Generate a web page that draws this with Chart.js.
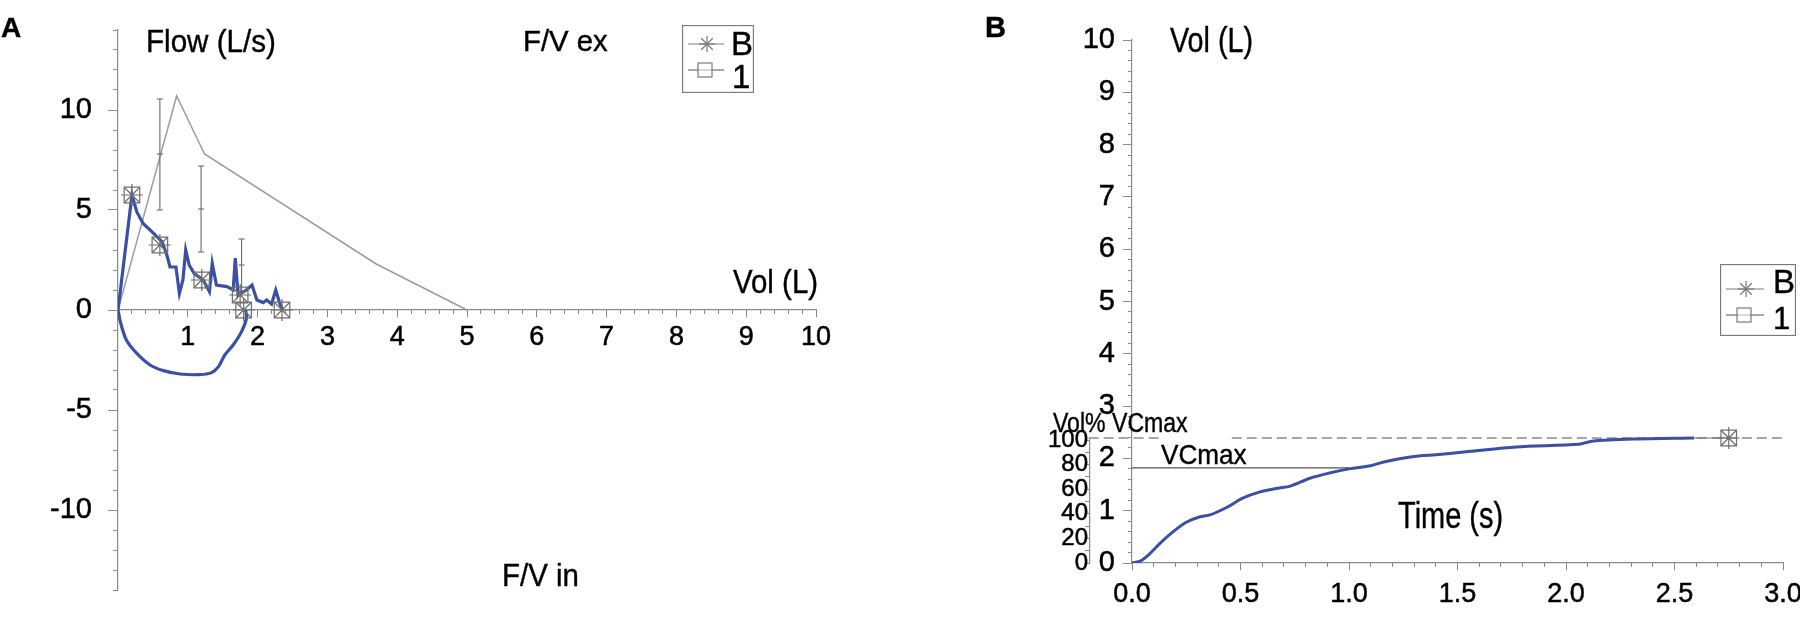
<!DOCTYPE html>
<html>
<head>
<meta charset="utf-8">
<title>F/V and V/T curves</title>
<script src="https://cdn.jsdelivr.net/npm/chart.js"></script>
<style>
  body { margin: 0; background: #fff; }
  #wrap { position: relative; width: 1800px; height: 619px; overflow: hidden; background: #fff; }
  canvas { position: absolute; }
  .lbl { position: absolute; line-height: 1; white-space: nowrap; transform-origin: 0 0; color: #000;
         font-family: "Liberation Sans Narrow", "Liberation Sans", Arial, sans-serif;
         -webkit-text-stroke: 0.4px #000; }
  .legend { position: absolute; }
</style>
</head>
<body>
<div id="wrap">
  <canvas id="chartA" width="900" height="619" style="left:0;top:0"></canvas>
  <canvas id="chartB" width="900" height="619" style="left:900px;top:0"></canvas>
  <canvas id="chartPct" width="80" height="160" style="left:1030px;top:420px"></canvas>
</div>
<script>
// ---- Panel A: flow / volume ----
const predVol  = [0, 0.84, 1.24, 3.7, 5.0];
const predFlow = [0, 10.7, 7.8, 2.3, 0];

const errVol  = [0.6, 1.19, 1.77];
const errLow  = [5.0, 2.9, 0.95];
const errMid  = [7.8, 5.05, 2.25];
const errHigh = [10.55, 7.2, 3.55];

const expVol  = [0, 0.2, 0.27, 0.36, 0.51, 0.63, 0.70, 0.745, 0.83, 0.88, 0.93, 0.97, 1.02, 1.09, 1.22, 1.31,
                 1.35, 1.41, 1.56, 1.65, 1.68, 1.72, 1.84, 1.92, 1.99, 2.08, 2.13, 2.2, 2.26, 2.32, 2.36];
const expFlow = [0, 5.75, 4.9, 4.33, 3.83, 3.42, 2.75, 2.15, 2.15, 0.83, 1.5, 3.0, 2.25, 1.83, 1.5, 0.92,
                 2.33, 1.25, 1.17, 1.0, 2.6, 0.75, 1.0, 1.25, 0.5, 0.37, 0.5, 0.3, 1.0, 0.3, 0];

const inVol  = [0, 0.04, 0.12, 0.27, 0.46, 0.65, 0.89, 1.17, 1.34, 1.44, 1.53, 1.65, 1.77, 1.84, 1.83];
const inFlow = [0, -0.67, -1.5, -2.17, -2.75, -3.03, -3.2, -3.23, -3.13, -2.83, -2.25, -1.75, -1.08, -0.42, 0];

const markVol  = [0.2, 0.6, 1.2, 1.75, 1.8, 2.35];
const markFlow = [5.75, 3.25, 1.5, 0.75, 0, 0];

// ---- Panel B: volume / time ----
const timeS = [0, 0.04, 0.08, 0.13, 0.19, 0.25, 0.31, 0.36, 0.44, 0.51, 0.59, 0.67, 0.73, 0.82, 0.91, 1.0,
               1.1, 1.16, 1.24, 1.33, 1.4, 1.55, 1.77, 2.06, 2.12, 2.31, 2.59];
const volL  = [0, 0.04, 0.17, 0.38, 0.6, 0.78, 0.88, 0.92, 1.07, 1.24, 1.36, 1.43, 1.47, 1.62, 1.72, 1.8,
               1.86, 1.93, 2.0, 2.05, 2.07, 2.13, 2.22, 2.27, 2.33, 2.37, 2.39];

const vcMax = 2.39;             // 100 % level (L)
const vcLineVol = 1.82;         // solid "VCmax" marker line
const vcLineTime = [0, 1.0];
const refLeftTime = [-0.2, 0.13];   // dashed 100 % line starts at the % axis
const refRightTime = [0.46, 3.0];
const endTime = [2.59, 2.75];
const markTime = [2.75];

const pctTicks = [0, 100];

const blue = '#3b4fa6';
const axisGray = '#8a8a8a';
const markGray = '#6e6e6e';
const FONT = '"Liberation Sans Narrow", "Liberation Sans", Arial, sans-serif';

const pts = (xs, ys) => xs.map((x, i) => ({ x: x, y: ys[i] }));
const flat = (xs, y) => xs.map(x => ({ x: x, y: y }));
const noPad = (s) => { s.paddingLeft = 0; s.paddingRight = 0; s.paddingTop = 0; s.paddingBottom = 0; };
const tickText = (size) => ({ family: FONT, size: size });

function minorAxis(axis, min, max, step, len, pos) {
    return {
        type: 'linear', axis: axis, min: min, max: max, position: pos,
        ticks: { stepSize: step, display: false },
        grid: { drawOnChartArea: false, tickLength: len, tickColor: axisGray },
        border: { display: false },
        afterFit: noPad
    };
}

function markerSets(xs, ys) {
    return [
        { label: 'B', data: pts(xs, ys), showLine: false, pointStyle: 'star', pointRadius: 11,
          borderColor: markGray, pointBorderWidth: 1.2, backgroundColor: 'rgba(0,0,0,0)', order: 0 },
        { label: '1', data: pts(xs, ys), showLine: false, pointStyle: 'rect', pointRadius: 11,
          borderColor: markGray, pointBorderWidth: 1.2, backgroundColor: 'rgba(0,0,0,0)', order: 0 }
    ];
}

const common = {
    responsive: false,
    animation: false,
    events: [],
    plugins: { legend: { display: false }, tooltip: { enabled: false } }
};

const labelTicks = { color: '#000', textStrokeColor: '#000', textStrokeWidth: 0.5, autoSkip: false, maxRotation: 0 };

// Panel A chart
const errSets = errVol.map((x, i) => ({
    data: [{ x: x, y: errLow[i] }, { x: x, y: errMid[i] }, { x: x, y: errHigh[i] }],
    showLine: true, borderColor: '#6a6a6a', borderWidth: 1.1,
    pointStyle: 'line', pointRadius: 3, pointBorderColor: '#6a6a6a', pointBorderWidth: 1.1, order: 2
}));

new Chart(document.getElementById('chartA'), {
    type: 'scatter',
    data: {
        datasets: [
            ...markerSets(markVol, markFlow),
            { data: pts(expVol, expFlow), showLine: true, borderColor: blue, borderWidth: 3.2,
              pointRadius: 0, tension: 0, order: 1 },
            { data: pts(inVol, inFlow), showLine: true, borderColor: blue, borderWidth: 3.2,
              pointRadius: 0, tension: 0.3, order: 1 },
            ...errSets,
            { data: pts(predVol, predFlow), showLine: true, borderColor: '#9c9c9c', borderWidth: 1.5,
              pointRadius: 0, order: 3 }
        ]
    },
    options: {
        ...common,
        layout: { padding: { left: 0, right: 84, top: 30, bottom: 29 } },
        scales: {
            x: {
                type: 'linear', min: 0, max: 10, position: { y: 0 },
                ticks: { ...labelTicks, stepSize: 1, padding: 4, font: tickText(27),
                         callback: v => v === 0 ? '' : v },
                grid: { drawOnChartArea: false, tickLength: 7, tickColor: axisGray },
                border: { color: axisGray, width: 1.2 },
                afterFit: noPad
            },
            xMinor: minorAxis('x', 0, 10, 0.2, 4, { y: 0 }),
            y: {
                type: 'linear', min: -14, max: 14, position: 'left',
                ticks: { ...labelTicks, stepSize: 5, includeBounds: false, padding: 16, font: tickText(29) },
                grid: { drawOnChartArea: false, tickLength: 10, tickColor: axisGray },
                border: { color: axisGray, width: 1.2 },
                afterFit: s => { noPad(s); s.width = 118; }
            },
            yMinor: minorAxis('y', -14, 14, 1, 5, { x: 0 })
        }
    }
});

// Panel B chart
new Chart(document.getElementById('chartB'), {
    type: 'scatter',
    data: {
        datasets: [
            ...markerSets(markTime, markTime.map(() => vcMax)),
            { data: pts(timeS, volL), showLine: true, borderColor: blue, borderWidth: 3,
              pointRadius: 0, tension: 0.3, order: 1 },
            { data: flat(endTime, vcMax), showLine: true, borderColor: '#777', borderWidth: 1,
              pointRadius: 0, order: 2 },
            { data: flat(vcLineTime, vcLineVol), showLine: true, borderColor: '#555', borderWidth: 1.2,
              pointRadius: 0, order: 2 },
            { data: flat(refLeftTime, vcMax), showLine: true, borderColor: axisGray, borderWidth: 1.3,
              borderDash: [10, 5], pointRadius: 0, order: 3, clip: false },
            { data: flat(refRightTime, vcMax), showLine: true, borderColor: axisGray, borderWidth: 1.3,
              borderDash: [10, 5], pointRadius: 0, order: 3 }
        ]
    },
    options: {
        ...common,
        layout: { padding: { left: 0, right: 17, top: 40, bottom: 56 } },
        scales: {
            x: {
                type: 'linear', min: 0, max: 3, position: { y: 0 },
                ticks: { ...labelTicks, stepSize: 0.5, padding: 8, font: tickText(27),
                         callback: v => v.toFixed(1) },
                grid: { drawOnChartArea: false, tickLength: 7, tickColor: axisGray },
                border: { color: axisGray, width: 1.2 },
                afterFit: noPad
            },
            xMinor: minorAxis('x', 0, 3, 0.1, 4, { y: 0 }),
            y: {
                type: 'linear', min: 0, max: 10, position: 'left',
                ticks: { ...labelTicks, stepSize: 1, padding: 8, font: tickText(29) },
                grid: { drawOnChartArea: false, tickLength: 9, tickColor: axisGray },
                border: { color: axisGray, width: 1.2 },
                afterFit: s => { noPad(s); s.width = 232; }
            },
            yMinor: minorAxis('y', 0, 10, 0.2, 4, { x: 0 })
        }
    }
});

// Vol% VCmax axis (0..100 % spans 0..VCmax litres)
new Chart(document.getElementById('chartPct'), {
    type: 'scatter',
    data: { datasets: [] },
    options: {
        ...common,
        layout: { padding: { left: 0, right: 10, top: 20, bottom: 17 } },
        scales: {
            x: { type: 'linear', display: false, min: 0, max: 1 },
            y: {
                type: 'linear', min: pctTicks[0], max: pctTicks[1], position: 'left',
                ticks: { ...labelTicks, stepSize: 10, padding: -3, font: tickText(24),
                         callback: v => v % 20 === 0 ? v : '' },
                grid: { drawOnChartArea: false, tickLength: 5, tickColor: axisGray },
                border: { color: axisGray, width: 1.2 },
                afterFit: s => { noPad(s); s.width = 60; }
            }
        }
    }
});

// ---- text labels ----
const wrap = document.getElementById('wrap');

function addText(str, left, baseline, size, inkWidth, bold) {
    const el = document.createElement('span');
    el.className = 'lbl';
    el.textContent = str;
    el.style.left = left + 'px';
    el.style.top = (baseline - 0.8465 * size) + 'px';
    el.style.fontSize = size + 'px';
    if (bold) {
        el.style.fontWeight = 'bold';
        el.style.fontFamily = '"Liberation Sans", Arial, sans-serif';
    }
    wrap.appendChild(el);
    if (inkWidth) {
        const w = el.getBoundingClientRect().width;
        el.style.transform = 'scaleX(' + ((inkWidth + 0.06 * size) / w) + ')';
    }
    return el;
}

addText('A', 1, 38, 28, 0, true);
addText('B', 985, 38, 29, 0, true);
addText('Flow (L/s)', 146, 52, 32, 128);
addText('F/V ex', 523, 52, 29, 83);
addText('Vol (L)', 733, 293, 34, 83);
addText('F/V in', 502, 586, 32, 75);
addText('Vol (L)', 1170, 52, 35, 81);
addText('Vol% VCmax', 1053, 433, 27, 133);
addText('VCmax', 1161, 465, 28, 84);
addText('Time (s)', 1398, 528, 36, 103);

// ---- legends ----
function legendBox(left, top, w, h, rowY, lineX, starX, sqX) {
    const ns = 'http://www.w3.org/2000/svg';
    const svg = document.createElementNS(ns, 'svg');
    svg.setAttribute('class', 'legend');
    svg.setAttribute('width', w);
    svg.setAttribute('height', h);
    svg.style.left = left + 'px';
    svg.style.top = top + 'px';
    const g = '#7a7a7a';
    let html = `<rect x="0.5" y="0.5" width="${w - 1}" height="${h - 1}" fill="none" stroke="${g}" stroke-width="1.3"/>`;
    html += `<line x1="${lineX[0]}" y1="${rowY[0]}" x2="${lineX[1]}" y2="${rowY[0]}" stroke="${g}" stroke-width="1.2"/>`;
    html += `<line x1="${lineX[0]}" y1="${rowY[1]}" x2="${lineX[1]}" y2="${rowY[1]}" stroke="${g}" stroke-width="1.2"/>`;
    const r = 8;
    [[r, 0], [0, r], [r * 0.72, r * 0.72], [r * 0.72, -r * 0.72]].forEach(([dx, dy]) => {
        html += `<line x1="${starX - dx}" y1="${rowY[0] - dy}" x2="${starX + dx}" y2="${rowY[0] + dy}" stroke="${g}" stroke-width="1.2"/>`;
    });
    html += `<rect x="${sqX - 7}" y="${rowY[1] - 7}" width="14" height="14" fill="#fff" stroke="${g}" stroke-width="1.2"/>`;
    html += `<line x1="${lineX[0]}" y1="${rowY[1]}" x2="${lineX[1]}" y2="${rowY[1]}" stroke="${g}" stroke-width="1" opacity="0.6"/>`;
    svg.innerHTML = html;
    wrap.appendChild(svg);
}

legendBox(682, 25, 72, 68, [19, 45], [6, 42], 25, 23);
addText('B', 731, 55, 33, 0);
addText('1', 732, 88, 33, 0);

legendBox(1720, 264, 76, 72, [25, 51], [6, 44], 26, 24);
addText('B', 1773, 293, 33, 0);
addText('1', 1773, 329, 31, 0);
</script>
</body>
</html>
